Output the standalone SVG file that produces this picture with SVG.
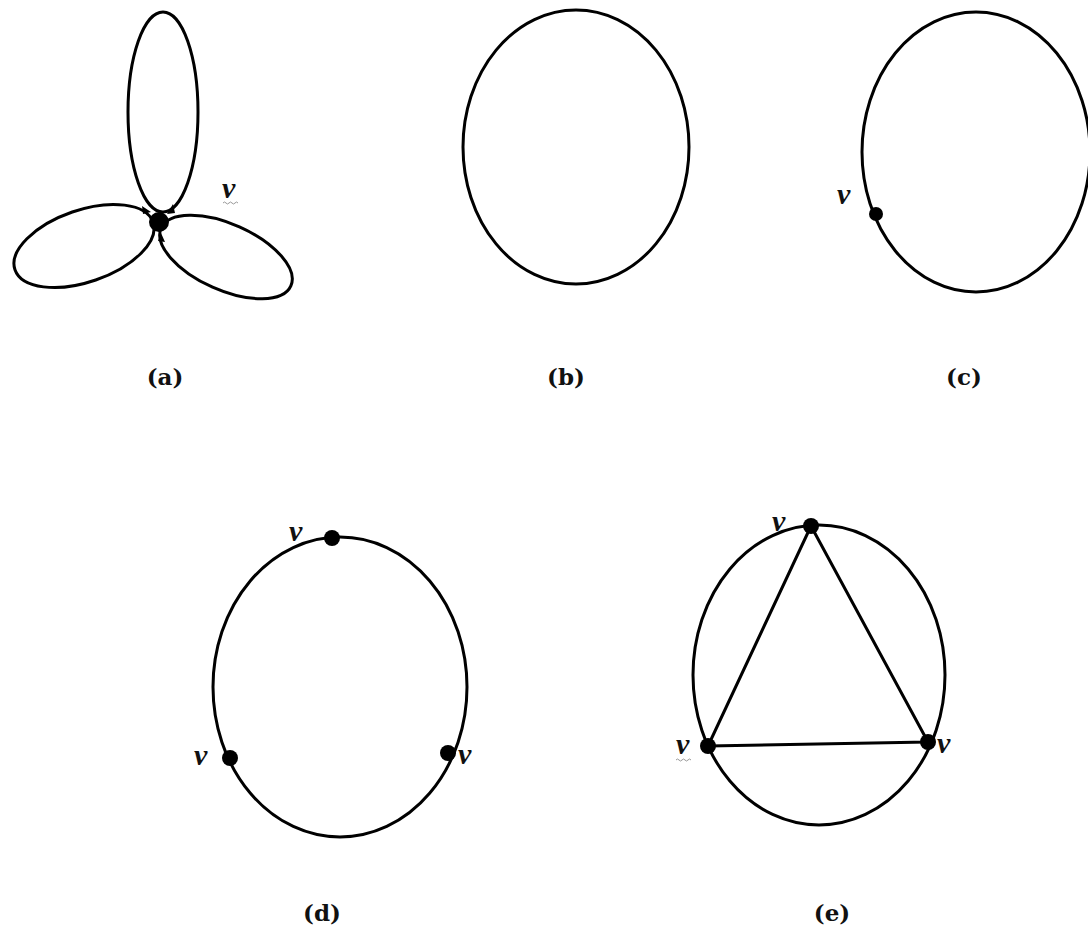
<svg xmlns="http://www.w3.org/2000/svg" width="1088" height="930" viewBox="0 0 1088 930">
<style>
.e{fill:none;stroke:#000;stroke-width:3}
.d{fill:#000}
.v{font-family:"Liberation Serif",serif;font-style:italic;font-weight:bold;font-size:30px;fill:#111}
.cap{font-family:"DejaVu Serif","Liberation Serif",serif;font-weight:bold;font-size:23px;fill:#111;text-anchor:middle}
.sq{fill:none;stroke:#999;stroke-width:1}
</style>
<rect width="1088" height="930" fill="#fff"/>
<g id="graph-a">
<ellipse class="e" cx="163" cy="112" rx="35" ry="100"/>
<ellipse class="e" cx="84" cy="246" rx="73" ry="36" transform="rotate(-19 84 246)"/>
<ellipse class="e" cx="226" cy="257" rx="71" ry="33" transform="rotate(24 226 257)"/>
<circle class="d" cx="159" cy="222" r="10"/>
<path class="d" d="M142 206 L151 212 L143 214Z M173 204 L167 214 L175 213Z M161 233 L165 242 L158 241Z"/>
<text class="v" x="222" y="198">v</text>
<path class="sq" d="M223 203 q1.5 -2 3 0 t3 0 t3 0 t3 0 t3 0"/>
</g>
<g id="graph-b">
<ellipse class="e" cx="576" cy="147" rx="113" ry="137"/>
</g>
<g id="graph-c">
<ellipse class="e" cx="976" cy="152" rx="114" ry="140"/>
<circle class="d" cx="876" cy="214" r="7"/>
<text class="v" x="837" y="204">v</text>
</g>
<g id="graph-d">
<ellipse class="e" cx="340" cy="687" rx="127" ry="150"/>
<circle class="d" cx="332" cy="538" r="8"/>
<circle class="d" cx="230" cy="758" r="8"/>
<circle class="d" cx="448" cy="753" r="8"/>
<text class="v" x="289" y="541">v</text>
<text class="v" x="194" y="765">v</text>
<text class="v" x="458" y="764">v</text>
</g>
<g id="graph-e">
<ellipse class="e" cx="819" cy="675" rx="126" ry="150"/>
<circle class="d" cx="811" cy="526" r="8"/>
<circle class="d" cx="708" cy="746" r="8"/>
<circle class="d" cx="928" cy="742" r="8"/>
<text class="v" x="772" y="531">v</text>
<text class="v" x="676" y="754">v</text>
<text class="v" x="937" y="753">v</text>
<path class="sq" d="M676 760 q1.5 -2 3 0 t3 0 t3 0 t3 0 t3 0"/>
</g>
<g id="connectors">
<path class="e" d="M811 526 L708 746 L928 742 Z" stroke-linejoin="round"/>
</g>
<g id="captions">
<text class="cap" x="165" y="385">(a)</text>
<text class="cap" x="566" y="385">(b)</text>
<text class="cap" x="964" y="385">(c)</text>
<text class="cap" x="322" y="921">(d)</text>
<text class="cap" x="832" y="921">(e)</text>
</g>
</svg>
